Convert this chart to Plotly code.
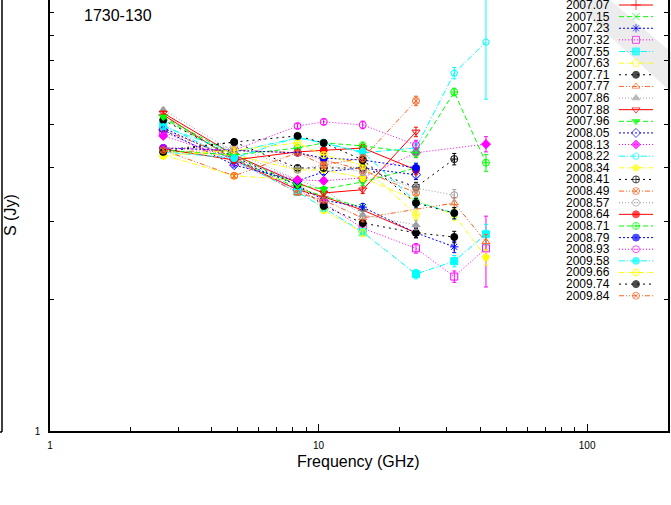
import plotly.graph_objects as go

# ---------------- data ----------------
freqs = [2.64, 4.85, 8.35, 10.45, 14.6, 23.05, 32.0, 42.0]

epochs = ["2007.07", "2007.15", "2007.23", "2007.32", "2007.55", "2007.63", "2007.71",
          "2007.77", "2007.86", "2007.88", "2007.96", "2008.05", "2008.13", "2008.22",
          "2008.34", "2008.41", "2008.49", "2008.57", "2008.64", "2008.71", "2008.79",
          "2008.93", "2009.58", "2009.66", "2009.74", "2009.84"]

s2007_07 = [5.26, 4.15, 3.55, 3.42, 3.19, 2.83, None, None]
s2007_15 = [5.17, 4.19, 3.58, 3.44, 3.23, None, None, None]
s2007_23 = [4.91, 4.15, 3.64, 3.36, 3.24, 2.83, 2.63, None]
s2007_32 = [4.81, 4.11, 3.55, 3.31, 2.90, 2.61, 2.25, 2.61]
s2007_55 = [4.99, 4.15, 3.51, 3.23, 2.84, 2.28, 2.44, 2.81]
s2007_63 = [4.26, 3.82, 3.74, 3.19, 2.83, None, None, None]
s2007_71 = [5.12, 4.22, 3.64, 3.26, 2.98, 2.83, 2.77, None]
s2007_77 = [4.86, 4.19, 3.49, 3.36, 3.06, None, 3.31, 2.70]
s2007_86 = [5.40, 4.33, 3.74, 3.55, 3.11, 2.95, None, None]
s2007_88 = [5.31, 4.26, 3.68, 3.49, 3.55, 4.81, None, None]
s2007_96 = [5.20, 4.26, 3.64, 3.56, 3.70, 3.98, None, None]
s2008_05 = [4.86, 4.04, 3.72, 3.90, 3.98, 3.84, None, None]
s2008_13 = [4.71, 4.19, 3.74, 3.72, 3.78, 4.31, None, 4.51]
s2008_22 = [4.94, 4.33, 4.66, 4.54, 4.31, 4.42, 6.55, 7.71]
s2008_34 = [4.33, 4.26, 3.94, 3.94, 3.78, 3.36, 3.11, 2.49]
s2008_41 = [4.37, 4.56, 3.98, 3.98, 3.98, 3.60, 4.17, None]
s2008_49 = [4.33, 4.37, 4.31, 4.15, 3.94, 3.49, None, None]
s2008_57 = [4.42, 4.44, 3.94, 4.04, 3.90, 3.58, 3.45, None]
s2008_64 = [4.40, 4.15, 4.33, 4.37, 4.42, 3.94, None, None]
s2008_71 = [4.37, 4.26, 4.42, 4.54, 4.47, 4.31, 5.93, 4.09]
s2008_79 = [4.42, 4.37, 4.31, 4.19, 4.15, 3.98, None, None]
s2008_93 = [4.42, 4.37, 4.96, 5.07, 4.99, 4.49, None, None]
s2009_58 = [4.33, 4.19, 4.68, 4.54, 4.33, 3.33, 3.14, None]
s2009_66 = [4.24, 4.37, 4.54, 4.26, 4.04, 3.11, None, None]
s2009_74 = [4.33, 4.56, 4.71, 4.54, 4.15, 3.31, 3.14, None]
s2009_84 = [4.37, 3.82, 4.31, 4.04, 4.19, 5.66, None, None]

fluxes = [s2007_07, s2007_15, s2007_23, s2007_32, s2007_55, s2007_63, s2007_71,
          s2007_77, s2007_86, s2007_88, s2007_96, s2008_05, s2008_13, s2008_22,
          s2008_34, s2008_41, s2008_49, s2008_57, s2008_64, s2008_71, s2008_79,
          s2008_93, s2009_58, s2009_66, s2009_74, s2009_84]

# typical relative flux uncertainty per frequency, plus a few large ones
rel_err = [0.01, 0.01, 0.012, 0.015, 0.02, 0.025, 0.03, 0.04]
big_err = {("2008.22", 7): 2.0, ("2007.32", 7): 0.48, ("2008.71", 7): 0.18,
           ("2007.55", 7): 0.15, ("2007.88", 5): 0.12, ("2008.71", 6): 0.12}

# ---------------- styles ----------------
palette = ["#ff0000", "#00ff00", "#0000ff", "#ff00ff", "#00ffff", "#ffff00",
           "#000000", "#ff6020", "#a0a0a0"]
dashes = ["solid", "5px,3px", "2px,2px", "1px,2px", "6px,2px,1px,2px",
          "5px,2px,1px,2px", "2px,4px", "5px,2px,1px,2px,1px,2px", "1px,2px"]
symbols = ["cross-thin-open", "x-thin-open", "asterisk-open", "square-open", "square",
           "circle-open", "circle", "triangle-up-open", "triangle-up",
           "triangle-down-open", "triangle-down", "diamond-open", "diamond",
           "pentagon-open", "pentagon", "circle-cross-open", "circle-x-open",
           "circle-open-dot", "circle", "circle-cross-open", "circle-x",
           "circle-open-dot", "circle", "circle-cross-open", "circle-x",
           "circle-x-open"]

FONT = "Liberation Sans, Arial, Helvetica, sans-serif"

fig = go.Figure()

for i, (ep, fl) in enumerate(zip(epochs, fluxes)):
    col = palette[i % 9]
    errs = []
    for k, v in enumerate(fl):
        if v is None:
            errs.append(None)
        else:
            errs.append(big_err.get((ep, k), v * rel_err[k]))
    fig.add_trace(go.Scatter(
        x=freqs, y=fl, mode="lines+markers", connectgaps=True, showlegend=False,
        line=dict(color=col, width=1, dash=dashes[i % 9]),
        marker=dict(symbol=symbols[i], size=7, color=col,
                    line=dict(color=col, width=1)),
        error_y=dict(type="data", array=errs, color=col, thickness=1, width=2),
        xaxis="x", yaxis="y"))

# custom legend (text left of sample, as in the reference)
for i, ep in enumerate(epochs):
    col = palette[i % 9]
    fig.add_trace(go.Scatter(
        x=[0, 1, 2], y=[i, i, i], mode="lines+markers", showlegend=False,
        line=dict(color=col, width=1, dash=dashes[i % 9]),
        marker=dict(symbol=symbols[i], size=[0, 7, 0], color=col,
                    line=dict(color=col, width=[0, 1, 0])),
        xaxis="x2", yaxis="y2", hoverinfo="skip"))
    fig.add_annotation(x=0.9094, xref="paper", y=i, yref="y2", text=ep,
                       showarrow=False, xanchor="right", yanchor="middle",
                       font=dict(family=FONT, size=12, color="black"))

W, H = 671, 505
L, R, T, B = 50, 3, 0, 74
PW, PH = W - L - R, H - T - B


def px(xp):
    return (xp - L) / PW


def py(yp):
    return (T + PH - yp) / PH


fig.update_layout(
    width=W, height=H, margin=dict(l=L, r=R, t=T, b=B),
    paper_bgcolor="white", plot_bgcolor="rgba(0,0,0,0)",
    font=dict(family=FONT, color="black", size=10),
    xaxis=dict(type="log", range=[0, 2.30103], showgrid=False, zeroline=False,
               showline=True, linecolor="black", linewidth=1.5, mirror=False,
               ticks="inside", ticklen=7, tickwidth=1, tickcolor="black",
               tickvals=[1, 10, 100], ticktext=["1", "10", "100"],
               tickfont=dict(size=10), ticklabelstandoff=4,
               minor=dict(ticks="inside", ticklen=4, tickcolor="black",
                          tickvals=[2, 3, 4, 5, 6, 7, 8, 9, 20, 30, 40, 50, 60, 70, 80, 90, 200])),
    yaxis=dict(type="log", range=[0, 0.9829], showgrid=False, zeroline=False,
               showline=True, linecolor="black", linewidth=1.5, mirror="ticks",
               ticks="inside", ticklen=7, tickwidth=1, tickcolor="black",
               tickvals=[1, 10], ticktext=["1", "10"], tickfont=dict(size=10),
               ticklabelstandoff=6,
               minor=dict(ticks="inside", ticklen=4, tickcolor="black",
                          tickvals=[2, 3, 4, 5, 6, 7, 8, 9])),
    xaxis2=dict(domain=[px(619), px(653)], range=[0, 2], visible=False,
                anchor="y2"),
    yaxis2=dict(domain=[0, 1], range=[(PH - 5) / 11.63, -5 / 11.63], visible=False,
                anchor="x2"),
)

# faint diagonal band in the top-right corner (background)
fig.add_shape(type="path", xref="paper", yref="paper", layer="below",
              path=f"M {px(570)} {py(0)} L {px(610)} {py(0)} L {px(671)} {py(52)} "
                   f"L {px(671)} {py(92)} Z",
              fillcolor="#ececec", line=dict(width=0))

# edge of the neighbouring panel on the left
fig.add_shape(type="line", xref="paper", yref="paper",
              x0=px(2), x1=px(2), y0=py(432), y1=py(0),
              line=dict(color="black", width=1.5))
fig.add_shape(type="line", xref="paper", yref="paper",
              x0=px(0), x1=px(2), y0=py(432), y1=py(432),
              line=dict(color="black", width=1.5))

# texts
fig.add_annotation(x=px(82), y=py(15), xref="paper", yref="paper", text="1730-130",
                   showarrow=False, xanchor="left", yanchor="middle",
                   font=dict(family=FONT, size=16, color="black"))
fig.add_annotation(x=px(358), y=py(461), xref="paper", yref="paper",
                   text="Frequency (GHz)", showarrow=False, xanchor="center",
                   yanchor="middle", font=dict(family=FONT, size=16, color="black"))
fig.add_annotation(x=px(10), y=py(215), xref="paper", yref="paper", text="S (Jy)",
                   showarrow=False, textangle=-90, xanchor="center", yanchor="middle",
                   font=dict(family=FONT, size=16, color="black"))

fig.write_html("out.html")
